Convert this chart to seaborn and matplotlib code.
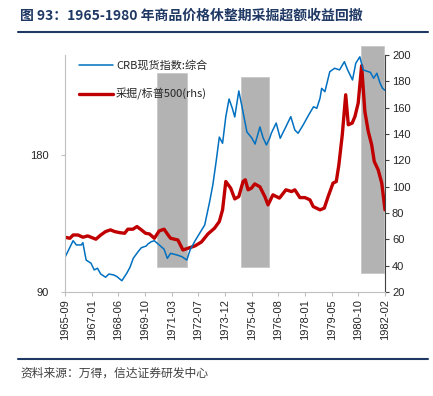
import numpy as np
import pandas as pd
import seaborn as sns
import matplotlib.pyplot as plt
from matplotlib.patches import Rectangle

# months since 1965-09 (x axis is an evenly spaced category axis in the source)
crb_month = [0, 5, 7, 10, 11, 13, 16, 18, 20, 22, 25, 27, 30, 32, 35, 38, 40, 42, 45, 47,
             50, 51, 53, 55, 58, 61, 63, 65, 69, 72, 75, 77, 80, 83, 86, 89, 91, 93, 95, 97,
             99, 101, 103, 104.5, 107, 109, 112, 115, 117, 120, 122, 124, 126, 127, 130,
             132.5, 136, 139, 141.5, 143.5, 146.6, 150, 153, 155, 157, 158, 160, 163, 166,
             169, 172, 174, 177, 179, 181.5, 183.6, 188, 190, 192, 194, 195.5, 197]
crb_value = [112.8, 123.7, 120.9, 120.9, 122.4, 111.0, 108.9, 104.5, 105.6, 101.8, 99.7,
             101.8, 101.2, 100.1, 97.4, 102.3, 106.2, 112.1, 116.5, 119.1, 120.2, 121.5,
             123.0, 123.7, 120.9, 118.1, 112.1, 115.4, 114.3, 113.2, 111.0, 117.6, 123.5,
             128.8, 134.0, 149.1, 160.3, 175.4, 191.8, 187.7, 205.2, 216.8, 210.7, 205.0,
             222.1, 211.5, 195.1, 191.2, 187.2, 198.4, 191.2, 186.6, 191.0, 194.3, 201.0,
             191.0, 198.6, 205.2, 196.4, 194.3, 199.7, 206.3, 211.7, 210.7, 217.3, 223.8,
             221.6, 234.7, 237.0, 235.9, 241.3, 235.9, 229.3, 240.3, 244.5, 235.9, 234.3,
             230.4, 233.7, 227.1, 223.8, 222.5]

ratio_month = [0, 3, 5, 8, 11, 14, 16, 19, 22, 25, 28, 30.5, 33.6, 36.7, 38.7, 41.8, 44.3,
               47, 49.6, 52, 55, 58, 61, 63, 65, 69.5, 72.6, 75.7, 80, 84, 88, 92, 95, 97,
               99, 102, 104.5, 107, 109.6, 111, 112.7, 114.8, 116.8, 120, 123, 125, 128,
               132, 136, 139.5, 141.5, 144.6, 147.7, 150.8, 152.8, 157, 159.6, 162, 165,
               167, 168.6, 170.7, 172.8, 174.4, 176.8, 178.5, 180.5, 182.6, 184.6, 186.7,
               188.8, 190.4, 192.8, 195, 197]
ratio_value = [61.6, 60.8, 63.3, 63.3, 61.6, 62.6, 61.6, 60.1, 63.3, 65.9, 67.2, 65.9, 65.1,
               64.6, 67.7, 67.7, 69.7, 67.2, 64.6, 64.1, 60.8, 66.4, 67.7, 64.1, 60.8, 59.5,
               51.9, 53.2, 55.0, 58.0, 64.1, 68.4, 73.5, 82.4, 103.9, 98.9, 90.7, 92.5,
               103.9, 105.2, 97.6, 98.9, 102.1, 99.9, 92.5, 86.2, 93.8, 91.3, 97.6, 96.3,
               97.6, 91.7, 91.7, 90.0, 84.9, 82.4, 83.7, 92.5, 102.7, 103.9, 116.6, 139.4,
               169.8, 147.0, 148.3, 153.3, 163.5, 191.9, 157.1, 141.9, 131.8, 119.1, 112.8,
               102.7, 82.4]

tick_labels = ['1965-09', '1967-01', '1968-06', '1969-10', '1971-03', '1972-07', '1973-12',
               '1975-04', '1976-08', '1978-01', '1979-05', '1980-10', '1982-02']

# shaded consolidation periods (start month, end month, low, high on rhs scale)
periods = [(56.4, 75.0, 39, 186), (108.2, 125.5, 39, 183.5), (182.5, 196.1, 34.4, 207)]

crb = pd.DataFrame({'month': crb_month, 'value': crb_value})
ratio = pd.DataFrame({'month': ratio_month, 'value': ratio_value})

sns.set_style('white')
plt.rcParams['font.family'] = ['Liberation Sans', 'Noto Sans CJK SC']

fig = plt.figure(figsize=(4.33, 3.96), dpi=100)
ax = fig.add_axes([65 / 433, 1 - 292 / 396, 320 / 433, 237 / 396])
ax2 = ax.twinx()
ax.set_zorder(ax2.get_zorder() + 1)
ax.patch.set_visible(False)

for p in periods:
    ax2.add_patch(Rectangle((p[0], p[2]), p[1] - p[0], p[3] - p[2], facecolor='#b3b3b3',
                            edgecolor='#c8c8c8', lw=0.6, zorder=0, clip_on=False))

sns.lineplot(data=crb, x='month', y='value', ax=ax, color='#0070c0', lw=1.1,
             label='CRB现货指数:综合', legend=False)
sns.lineplot(data=ratio, x='month', y='value', ax=ax2, color='#c00000', lw=2.4,
             label='采掘/标普500(rhs)', legend=False)

ax.set_xlim(0, 197)
ax.set_ylim(90, 245.7)
ax.set_yticks([90, 180])
ax2.set_ylim(20, 200)
ax2.set_yticks(range(20, 201, 20))
ax.set_xticks(np.linspace(0, 197, len(tick_labels)))
ax.set_xticklabels(tick_labels, rotation=90)
for a in (ax, ax2):
    a.set_xlabel('')
    a.set_ylabel('')
    a.spines['top'].set_visible(False)
ax.spines['right'].set_visible(False)
ax.spines['left'].set_color('#bfbfbf')
ax.spines['bottom'].set_color('#bfbfbf')
ax2.spines['left'].set_visible(False)
ax2.spines['bottom'].set_visible(False)
ax2.spines['right'].set_color('#404040')
ax.tick_params(axis='x', length=3, color='#bfbfbf', labelsize=8, pad=2, bottom=True)
ax.tick_params(axis='y', length=3, color='#bfbfbf', labelsize=8, pad=9, left=True)
ax2.tick_params(axis='y', length=3, color='#404040', labelsize=8, pad=2, right=True)

h1, l1 = ax.get_legend_handles_labels()
h2, l2 = ax2.get_legend_handles_labels()
leg = ax.legend(h1 + h2, l1 + l2, loc='upper left', bbox_to_anchor=(0.045, 0.98),
                frameon=False, borderpad=0, borderaxespad=0, handlelength=3.0,
                handletextpad=0.3, labelspacing=1.6,
                prop={'family': ['Noto Sans CJK SC'], 'size': 8})

fig.text(20 / 433, 1 - 16 / 396, '图 93：1965-1980 年商品价格休整期采掘超额收益回撤',
         family=['Noto Sans CJK SC'], fontsize=10, fontweight='bold', color='#1f3864',
         va='center', ha='left')
fig.add_artist(plt.Line2D([18 / 433, 428 / 433], [1 - 32 / 396, 1 - 32 / 396],
                          color='#1f3864', lw=1.5))
fig.add_artist(plt.Line2D([18 / 433, 428 / 433], [1 - 359 / 396, 1 - 359 / 396],
                          color='#1f3864', lw=1.5))
fig.text(20 / 433, 1 - 373 / 396, '资料来源：万得，信达证券研发中心',
         family=['Noto Sans CJK SC'], fontsize=8.5, style='italic', color='#404040',
         va='center', ha='left')

fig.savefig('out.png', dpi=100)
